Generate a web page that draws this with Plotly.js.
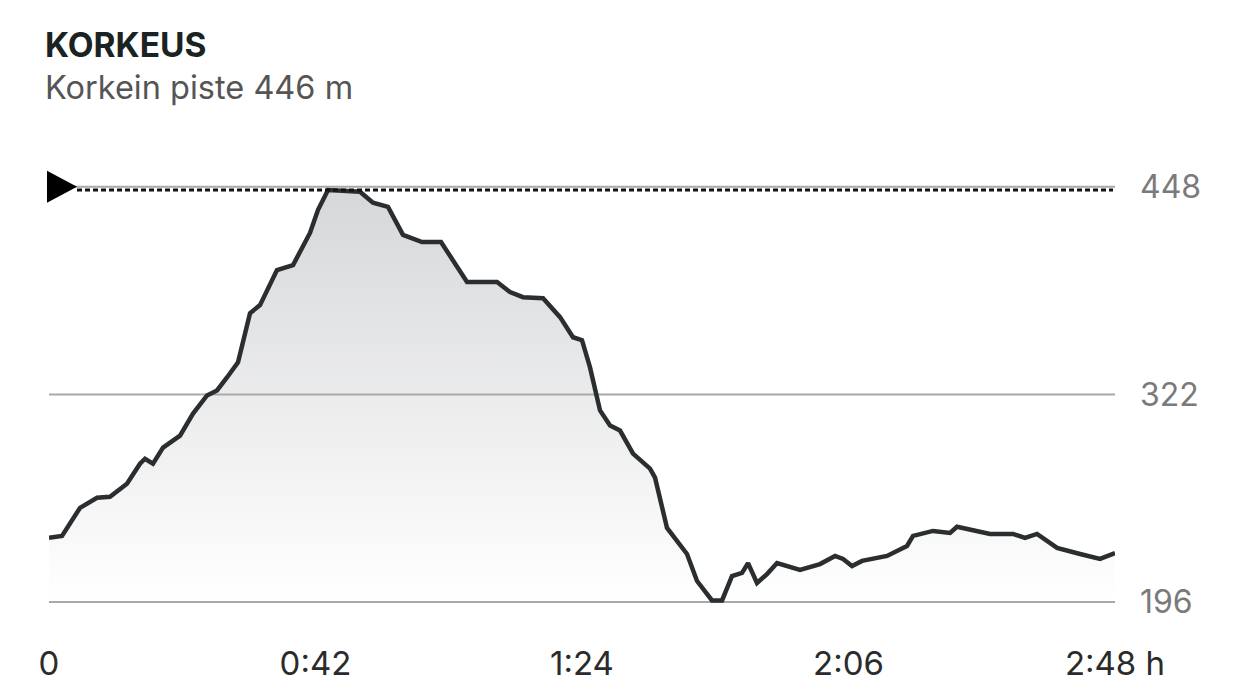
<!DOCTYPE html>
<html>
<head>
<meta charset="utf-8">
<script src="https://cdn.plot.ly/plotly-3.0.1.min.js"></script>
<style>
  html, body { margin: 0; padding: 0; background: #ffffff; }
  #chart { width: 1241px; height: 698px; }
</style>
</head>
<body>
<div id="chart"></div>
<script>
// Elapsed time (minutes) and elevation (m)
const timeMin = [0, 2.05, 4.89, 7.57, 9.61, 12.29, 14.34, 15.13, 16.39, 17.97, 20.65, 22.70, 24.90, 26.48, 28.05, 29.79,
  31.68, 33.25, 35.93, 38.46, 41.13, 42.40, 43.97, 46.65, 49.01, 51.06, 53.43, 55.79, 58.79, 61.78, 65.88, 70.61,
  72.66, 74.70, 77.86, 80.54, 82.58, 84.00, 85.26, 86.84, 88.42, 89.99, 92.04, 94.72, 95.51, 97.40, 99.45, 100.55,
  102.13, 104.49, 106.07, 107.64, 109.22, 110.17, 111.58, 113.16, 114.74, 118.36, 121.51, 123.88, 125.14, 126.56,
  128.13, 132.07, 135.22, 136.17, 139.32, 142.00, 143.10, 145.63, 148.31, 151.93, 153.82, 155.71, 158.87, 162.49,
  165.64, 168];
const elevation = [235.0, 236.2, 253.2, 259.3, 259.9, 267.8, 280.0, 283.0, 280.0, 289.7, 297.0, 310.4, 321.4, 324.4, 332.3, 341.5,
  371.3, 376.2, 397.5, 400.5, 420.0, 434.0, 446.0, 445.5, 445.0, 438.3, 435.8, 418.8, 414.5, 414.5, 390.2, 390.2,
  384.1, 381.0, 380.4, 368.9, 356.7, 354.9, 338.4, 312.3, 303.1, 300.1, 286.1, 277.0, 271.5, 241.0, 231.3, 225.2,
  208.8, 197.0, 197.0, 211.8, 213.7, 219.7, 207.6, 213.0, 219.7, 215.5, 219.1, 224.0, 222.2, 217.9,
  221.0, 224.0, 230.1, 236.2, 239.2, 238.0, 241.7, 239.8, 237.4, 237.4, 235.0, 237.4, 228.9, 225.2,
  222.2, 225.8];

const xTickVals = [0, 42, 84, 126, 168];
const xTickText = ['0', '0:42', '1:24', '2:06', '2:48 h'];
const yTickVals = [196, 322, 448];
const yTickText = ['196', '322', '448'];
const titleText = 'KORKEUS';
const subtitleText = 'Korkein piste 446 m';
const maxElevation = 446;

const yRange = [190, 460];
const xRange = [0, 168];

const font = "Inter, Lato, sans-serif";

// 1) gradient fill only
const fillTrace = {
  x: timeMin,
  y: elevation,
  type: 'scatter',
  mode: 'lines',
  line: { color: 'rgba(0,0,0,0)', width: 0 },
  fill: 'tozeroy',
  fillgradient: {
    type: 'vertical',
    start: 196,
    stop: 448,
    colorscale: [[0, '#ffffff'], [1, '#d6d7d9']]
  },
  hoverinfo: 'skip'
};

// 2) horizontal reference lines at the tick values (drawn over the fill)
const gridTraces = yTickVals.map(v => ({
  x: xRange,
  y: [v, v],
  type: 'scatter',
  mode: 'lines',
  line: { color: '#a9a9a9', width: 2 },
  hoverinfo: 'skip'
}));

// 3) the elevation line itself
const lineTrace = {
  x: timeMin,
  y: elevation,
  type: 'scatter',
  mode: 'lines',
  line: { color: '#2a2e30', width: 4.5, shape: 'linear' },
  hoverinfo: 'skip'
};

const layout = {
  width: 1241,
  height: 698,
  margin: { l: 49, r: 126, t: 167, b: 86 },
  paper_bgcolor: '#ffffff',
  plot_bgcolor: '#ffffff',
  showlegend: false,
  font: { family: font },
  xaxis: {
    range: xRange,
    tickvals: xTickVals,
    ticktext: xTickText,
    showgrid: false,
    zeroline: false,
    showline: false,
    ticks: '',
    ticklabelstandoff: 29,
    tickfont: { family: font, size: 33, color: '#2b2b2b' },
    fixedrange: true
  },
  yaxis: {
    range: yRange,
    side: 'right',
    tickvals: yTickVals,
    ticktext: yTickText,
    showgrid: false,
    zeroline: false,
    showline: false,
    ticks: '',
    ticklabelstandoff: 24,
    tickfont: { family: font, size: 32, color: '#7a7a7a' },
    fixedrange: true
  },
  shapes: [
    {
      type: 'line',
      xref: 'x', yref: 'y',
      xsizemode: 'pixel', xanchor: 0,
      x0: 28, x1: 1064,
      y0: maxElevation, y1: maxElevation,
      line: { color: '#111111', width: 3, dash: '5px,3px' },
      layer: 'above'
    },
    {
      type: 'path',
      xref: 'paper', yref: 'paper',
      xsizemode: 'pixel', ysizemode: 'pixel',
      xanchor: 0,
      yanchor: (448 - yRange[0]) / (yRange[1] - yRange[0]),
      path: 'M -2,16 L 28,0 L -2,-16 Z',
      fillcolor: '#000000',
      line: { width: 0 },
      layer: 'above'
    }
  ],
  annotations: [
    {
      text: '<b>' + titleText + '</b>',
      xref: 'paper', yref: 'paper',
      x: -0.006, y: (612 - 45) / 445,
      xanchor: 'left', yanchor: 'middle',
      showarrow: false,
      font: { family: font, size: 33.5, color: '#1b2322' }
    },
    {
      text: subtitleText,
      xref: 'paper', yref: 'paper',
      x: -0.006, y: (612 - 87) / 445,
      xanchor: 'left', yanchor: 'middle',
      showarrow: false,
      font: { family: font, size: 32.5, color: '#555555' }
    }
  ]
};

Plotly.newPlot('chart', [fillTrace].concat(gridTraces, [lineTrace]), layout,
  { displayModeBar: false, staticPlot: true });
</script>
</body>
</html>
